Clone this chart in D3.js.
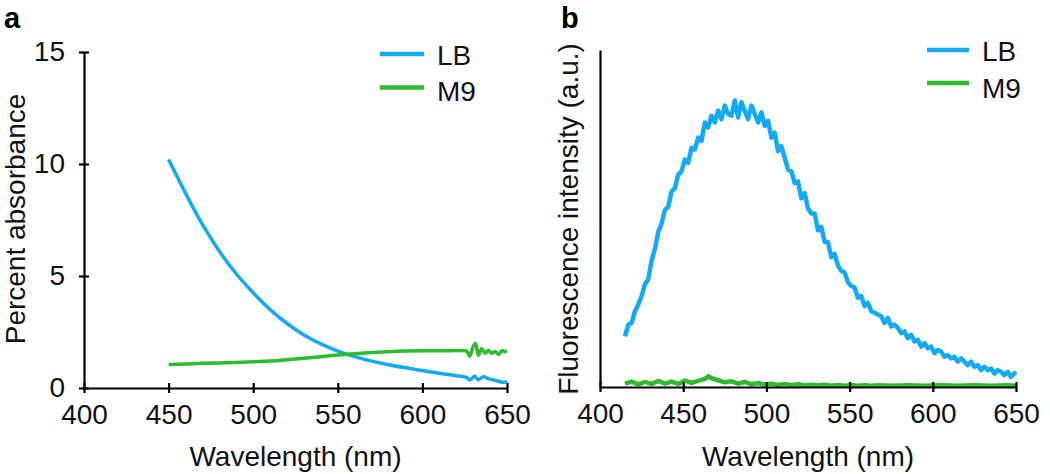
<!DOCTYPE html>
<html>
<head>
<meta charset="utf-8">
<script src="https://cdn.jsdelivr.net/npm/d3@7"></script>
<style>
    html, body { margin: 0; padding: 0; background: #fff; }
    svg { display: block; font-family: 'Liberation Sans', Arial, sans-serif; }
</style>
</head>
<body>
<div id="chart"></div>
<script>
// panel a: absorbance spectra
const absLBWave = [450, 460, 470, 480, 490, 500, 510, 520, 530, 540, 550, 560, 570, 580, 590, 600, 610, 620, 626, 628, 631, 633, 636, 639, 642, 645, 648, 650];
const absLBValue = [10.2, 8.7, 7.3, 6.1, 5.1, 4.25, 3.5, 2.88, 2.37, 1.97, 1.65, 1.4, 1.2, 1.04, 0.9, 0.78, 0.66, 0.55, 0.47, 0.36, 0.52, 0.37, 0.5, 0.42, 0.36, 0.3, 0.25, 0.3];
const absM9Wave = [450, 460, 470, 480, 490, 500, 510, 520, 530, 540, 550, 560, 570, 580, 590, 600, 610, 620, 626, 628, 630, 631.5, 633, 635, 637, 639, 641, 643, 645, 647, 650];
const absM9Value = [1.05, 1.07, 1.1, 1.12, 1.14, 1.17, 1.2, 1.26, 1.33, 1.4, 1.47, 1.53, 1.58, 1.62, 1.65, 1.66, 1.66, 1.67, 1.66, 1.42, 1.85, 2.0, 1.45, 1.75, 1.55, 1.68, 1.55, 1.63, 1.5, 1.66, 1.6];

// panel b: fluorescence spectra (arbitrary units)
const fluoLBWave = [415, 417, 419, 421, 423, 425, 427, 429, 431, 433, 435, 437, 439, 441, 443, 445, 447, 449, 451, 453, 455, 457, 459, 461, 463, 465, 467, 469, 471, 473, 475, 477, 479, 481, 483, 485, 487, 489, 491, 493, 495, 497, 499, 501, 503, 505, 507, 509, 511, 513, 515, 517, 519, 521, 523, 525, 527, 529, 531, 533, 535, 537, 539, 541, 543, 545, 547, 549, 551, 553, 555, 557, 559, 561, 563, 565, 567, 569, 571, 573, 575, 577, 579, 581, 583, 585, 587, 589, 591, 593, 595, 597, 599, 601, 603, 605, 607, 609, 611, 613, 615, 617, 619, 621, 623, 625, 627, 629, 631, 633, 635, 637, 639, 641, 643, 645, 647, 649, 650];
const fluoLBValue = [15.0, 18.5, 19.0, 22.5, 24.5, 27.0, 30.5, 32.0, 37.5, 41.0, 46.0, 48.5, 52.5, 53.5, 58.0, 59.0, 63.0, 64.0, 67.5, 66.5, 71.0, 70.5, 74.0, 73.0, 78.5, 77.0, 80.5, 78.5, 82.0, 79.5, 83.5, 81.0, 80.5, 85.0, 80.0, 84.5, 82.0, 79.5, 83.5, 81.0, 78.5, 81.5, 77.5, 79.0, 74.0, 75.5, 70.0, 71.5, 68.0, 64.5, 64.0, 60.5, 61.0, 56.0, 57.5, 53.0, 51.5, 51.5, 46.5, 47.5, 43.0, 43.0, 38.5, 39.5, 36.0, 34.5, 34.0, 31.0, 30.0, 29.5, 26.5, 27.0, 24.0, 25.0, 22.5, 22.0, 21.5, 21.0, 19.0, 20.5, 18.0, 18.5, 17.5, 16.0, 16.5, 14.5, 15.5, 13.5, 14.0, 12.0, 13.0, 11.5, 12.0, 10.0, 11.0, 10.5, 9.0, 9.5, 8.5, 9.0, 7.5, 8.5, 7.5, 6.5, 7.5, 6.0, 6.5, 5.0, 6.0, 5.0, 5.5, 4.0, 5.0, 4.5, 3.5, 4.5, 3.0, 4.0, 4.5];
const fluoM9Wave = [415, 419, 423, 427, 431, 435, 439, 443, 447, 451, 455, 459, 463, 465, 467, 471, 475, 479, 483, 487, 491, 495, 499, 503, 507, 511, 515, 519, 523, 527, 531, 535, 539, 543, 547, 551, 555, 559, 563, 567, 575, 585, 595, 605, 615, 625, 635, 645, 650];
const fluoM9Value = [1.0, 1.6, 0.8, 1.5, 0.9, 1.8, 1.0, 1.6, 0.9, 1.9, 1.2, 1.8, 2.4, 3.2, 2.6, 2.0, 1.4, 1.7, 1.0, 1.5, 0.8, 1.2, 0.7, 1.0, 0.6, 0.9, 0.6, 0.8, 0.5, 0.7, 0.5, 0.7, 0.4, 0.6, 0.4, 0.6, 0.4, 0.5, 0.4, 0.5, 0.4, 0.5, 0.4, 0.5, 0.4, 0.5, 0.4, 0.5, 0.4];

const xTicks = [400, 450, 500, 550, 600, 650];
const absYTicks = [0, 5, 10, 15];
const seriesNames = ['LB', 'M9'];
const seriesColors = ['#12a9f5', '#2fba2f'];

const width = 1050;
const height = 474;

const svg = d3.select('#chart')
    .append('svg')
    .attr('width', width)
    .attr('height', height);

const zip = (xs, ys) => xs.map((x, i) => ({ x, y: ys[i] }));

function crossTicks(axisG, horizontal) {
    axisG.select('.domain').attr('stroke-width', 2.2).attr('stroke', '#000');
    axisG.selectAll('.tick line')
        .attr('stroke', '#000')
        .attr('stroke-width', 2.2)
        .attr(horizontal ? 'y1' : 'x1', -5)
        .attr(horizontal ? 'y2' : 'x2', 5);
    axisG.selectAll('.tick text')
        .attr('font-size', 28)
        .attr('fill', '#111')
        .attr('font-family', "'Liberation Sans', Arial, sans-serif");
}

function drawPanel(opts) {
    const { x, y, series, curve, letter, letterX, yLabel, yLabelX, legendX, legendTextX, legendY, legendTextY, lineWidth } = opts;
    const g = svg.append('g');

    // lines
    const line = d3.line().curve(curve).x((d) => x(d.x)).y((d) => y(d.y));
    series.forEach((s, i) => {
        g.append('path')
            .datum(s)
            .attr('fill', 'none')
            .attr('stroke', seriesColors[i])
            .attr('stroke-width', lineWidth)
            .attr('stroke-linejoin', 'round')
            .attr('d', line);
    });

    // x axis
    const xAxis = g.append('g')
        .attr('transform', `translate(0,${y.range()[0]})`)
        .call(d3.axisBottom(x).tickValues(xTicks).tickSizeOuter(0).tickSizeInner(5).tickPadding(11));
    crossTicks(xAxis, true);
    xAxis.selectAll('.tick text').attr('dy', '0.71em');

    g.append('text')
        .attr('x', (x.range()[0] + x.range()[1]) / 2)
        .attr('y', 466)
        .attr('text-anchor', 'middle')
        .attr('font-size', 28)
        .attr('fill', '#111')
        .text('Wavelength (nm)');

    g.append('text')
        .attr('transform', `translate(${yLabelX},219) rotate(-90)`)
        .attr('text-anchor', 'middle')
        .attr('font-size', 28)
        .attr('fill', '#111')
        .text(yLabel);

    g.append('text')
        .attr('x', letterX)
        .attr('y', 28)
        .attr('font-size', 29)
        .attr('font-weight', 'bold')
        .attr('fill', '#000')
        .text(letter);

    // legend
    seriesNames.forEach((name, i) => {
        g.append('line')
            .attr('x1', legendX[0])
            .attr('x2', legendX[1])
            .attr('y1', legendY[i])
            .attr('y2', legendY[i])
            .attr('stroke', seriesColors[i])
            .attr('stroke-width', 4.5);
        g.append('text')
            .attr('x', legendTextX)
            .attr('y', legendTextY[i])
            .attr('font-size', 28)
            .attr('fill', '#111')
            .text(name);
    });
    return g;
}

// panel a
const xA = d3.scaleLinear().domain([400, 650]).range([84, 507]);
const yA = d3.scaleLinear().domain([0, 15]).range([388, 52]);
const gA = drawPanel({
    x: xA, y: yA,
    series: [zip(absLBWave, absLBValue), zip(absM9Wave, absM9Value)],
    curve: d3.curveMonotoneX,
    letter: 'a', letterX: 4,
    yLabel: 'Percent absorbance', yLabelX: 25,
    legendX: [380, 424], legendTextX: 437, legendY: [54, 87.5], legendTextY: [64.5, 100.5],
    lineWidth: 3.5
});
const yAxisA = gA.append('g')
    .attr('transform', `translate(${xA.range()[0]},0)`)
    .call(d3.axisLeft(yA).tickValues(absYTicks).tickSizeOuter(0).tickSizeInner(5).tickPadding(14));
crossTicks(yAxisA, false);

// panel b
const xB = d3.scaleLinear().domain([400, 650]).range([600, 1016]);
const yB = d3.scaleLinear().domain([0, 100]).range([387, 50]);
const gB = drawPanel({
    x: xB, y: yB,
    series: [zip(fluoLBWave, fluoLBValue), zip(fluoM9Wave, fluoM9Value)],
    curve: d3.curveLinear,
    letter: 'b', letterX: 561,
    yLabel: 'Fluorescence intensity (a.u.)', yLabelX: 578,
    legendX: [927, 969], legendTextX: 982, legendY: [50, 83], legendTextY: [61, 97.5],
    lineWidth: 4.5
});
gB.append('g')
    .attr('transform', `translate(${xB.range()[0]},0)`)
    .call(d3.axisLeft(yB).tickValues([]).tickSizeOuter(0))
    .call((a) => a.select('.domain').attr('stroke', '#000').attr('stroke-width', 2.2));
</script>
</body>
</html>
